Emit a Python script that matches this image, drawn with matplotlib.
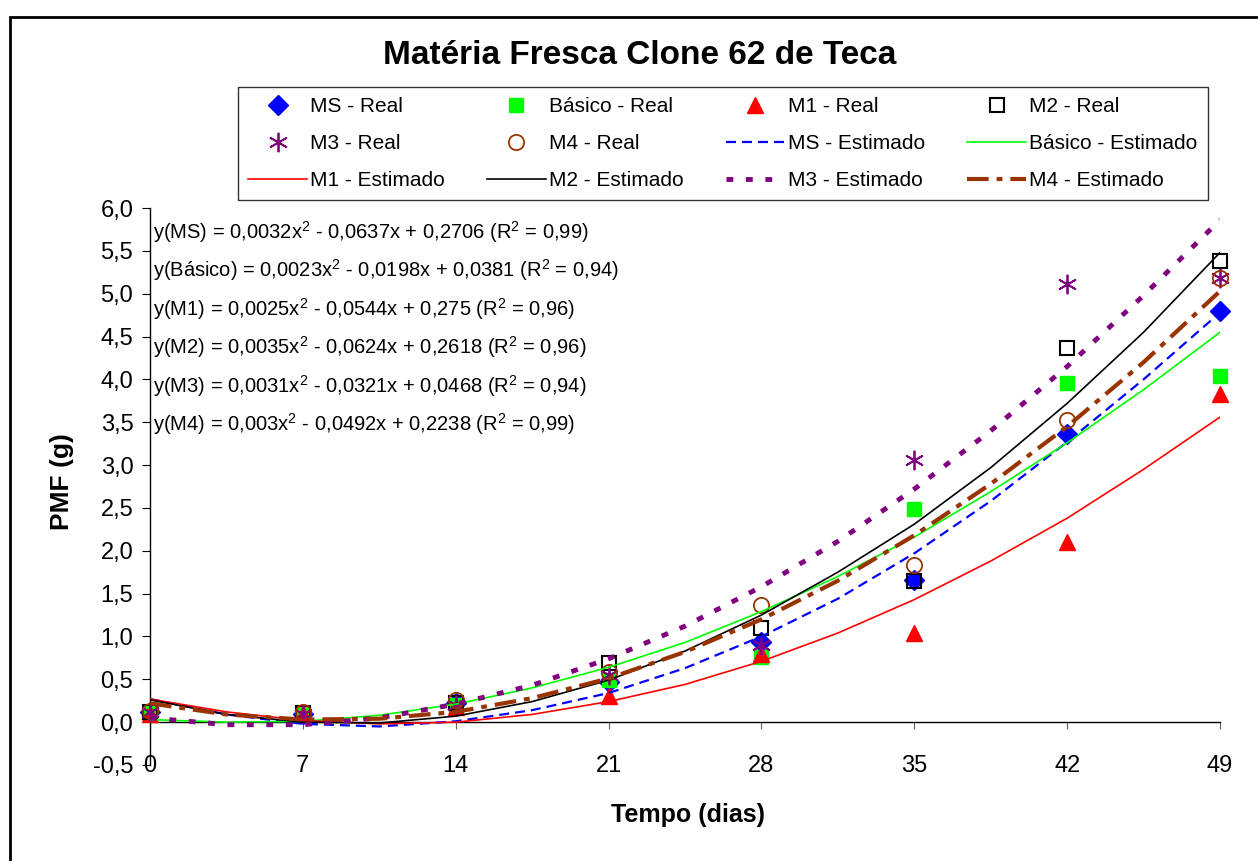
import numpy as np
import matplotlib
matplotlib.use("Agg")
import matplotlib.pyplot as plt
from matplotlib.patches import Rectangle

plt.rcParams['font.family'] = ['Liberation Sans', 'DejaVu Sans']
plt.rcParams['mathtext.fontset'] = 'custom'
plt.rcParams['mathtext.rm'] = 'Liberation Sans'
plt.rcParams['mathtext.default'] = 'regular'

# dias de coleta (valores reais)
dias = [0, 7, 14, 21, 28, 35, 42, 49]
ms_real = [0.12, 0.10, 0.22, 0.47, 0.94, 1.66, 3.36, 4.80]
basico_real = [0.11, 0.10, 0.20, 0.49, 0.76, 2.49, 3.96, 4.04]
m1_real = [0.10, 0.09, 0.18, 0.30, 0.80, 1.04, 2.10, 3.83]
m2_real = [0.12, 0.11, 0.22, 0.69, 1.10, 1.65, 4.37, 5.38]
m3_real = [0.12, 0.10, 0.20, 0.55, 0.90, 3.06, 5.11, 5.18]
m4_real = [0.13, 0.12, 0.26, 0.59, 1.37, 1.83, 3.53, 5.18]

# curvas estimadas
dias_est = [0, 3.5, 7, 10.5, 14, 17.5, 21, 24.5, 28, 31.5, 35, 38.5, 42, 45.5, 49]
ms_est = [0.27, 0.09, -0.02, -0.05, 0.01, 0.14, 0.34, 0.63, 1.00, 1.44, 1.97, 2.58, 3.27, 4.00, 4.78]
basico_est = [0.03, 0.00, 0.01, 0.08, 0.21, 0.40, 0.64, 0.93, 1.29, 1.70, 2.16, 2.69, 3.26, 3.88, 4.55]
m1_est = [0.27, 0.12, 0.02, -0.02, 0.00, 0.09, 0.24, 0.44, 0.71, 1.04, 1.43, 1.88, 2.38, 2.95, 3.56]
m2_est = [0.26, 0.09, 0.00, -0.01, 0.07, 0.24, 0.49, 0.83, 1.25, 1.75, 2.31, 2.97, 3.72, 4.55, 5.48]
m3_est = [0.05, -0.03, -0.03, 0.05, 0.21, 0.43, 0.74, 1.12, 1.58, 2.11, 2.72, 3.40, 4.15, 4.98, 5.86]
m4_est = [0.22, 0.09, 0.03, 0.04, 0.12, 0.28, 0.51, 0.82, 1.20, 1.65, 2.18, 2.78, 3.45, 4.20, 5.03]

equacoes = [
    "y(MS) = 0,0032x$^2$ - 0,0637x + 0,2706 (R$^2$ = 0,99)",
    "y(Básico) = 0,0023x$^2$ - 0,0198x + 0,0381 (R$^2$ = 0,94)",
    "y(M1) = 0,0025x$^2$ - 0,0544x + 0,275 (R$^2$ = 0,96)",
    "y(M2) = 0,0035x$^2$ - 0,0624x + 0,2618 (R$^2$ = 0,96)",
    "y(M3) = 0,0031x$^2$ - 0,0321x + 0,0468 (R$^2$ = 0,94)",
    "y(M4) = 0,003x$^2$ - 0,0492x + 0,2238 (R$^2$ = 0,99)",
]

fig = plt.figure(figsize=(12.58, 8.61), dpi=100)
ax = fig.add_axes([150/1258, 96/861, 1070/1258, 557/861])

kw = dict(ls="none", clip_on=False, zorder=3)
h_ms, = ax.plot(dias, ms_real, marker="D", ms=10.5, mfc="#0000FF", mec="#0000FF", label="MS - Real", **kw)
h_bas, = ax.plot(dias, basico_real, marker="s", ms=10.5, mfc="#00FF00", mec="#00FF00", label="Básico - Real", **kw)
h_m1, = ax.plot(dias, m1_real, marker="^", ms=12, mfc="#FF0000", mec="#FF0000", label="M1 - Real", **kw)
h_m2, = ax.plot(dias, m2_real, marker="s", ms=10.5, mfc="none", mec="black", mew=1.5, label="M2 - Real", **kw)
h_m3, = ax.plot(dias, m3_real, marker=(6, 2, 0), ms=14, mec="#800080", mew=1.3, label="M3 - Real", **kw)
h_m4, = ax.plot(dias, m4_real, marker="o", ms=11, mfc="none", mec="#993300", mew=1.3, label="M4 - Real", **kw)

e_ms, = ax.plot(dias_est, ms_est, c="#0000FF", lw=1.6, dashes=(4.5, 2.7), label="MS - Estimado", zorder=4)
e_bas, = ax.plot(dias_est, basico_est, c="#00FF00", lw=1.2, label="Básico - Estimado", zorder=4)
e_m1, = ax.plot(dias_est, m1_est, c="#FF0000", lw=1.2, label="M1 - Estimado", zorder=4)
e_m2, = ax.plot(dias_est, m2_est, c="black", lw=1.2, label="M2 - Estimado", zorder=4)
e_m3, = ax.plot(dias_est, m3_est, c="#800080", lw=3.5, dashes=(1.4, 2.6), label="M3 - Estimado", zorder=4)
e_m4, = ax.plot(dias_est, m4_est, c="#993300", lw=3.0, dashes=(5.2, 1.9, 1.4, 1.9), label="M4 - Estimado", zorder=4)

ax.set_xlim(0, 49)
ax.set_ylim(-0.5, 6.0)
ax.set_xticks(dias)
ax.set_yticks(np.arange(-0.5, 6.01, 0.5))
ax.set_yticklabels([f"{v:.1f}".replace(".", ",") for v in np.arange(-0.5, 6.01, 0.5)])
ax.spines["top"].set_visible(False)
ax.spines["right"].set_visible(False)
ax.spines["bottom"].set_position(("data", 0))
ax.spines["bottom"].set_linewidth(1.0)
ax.spines["left"].set_linewidth(1.0)
ax.tick_params(axis="x", direction="out", length=5, width=0.8, pad=19, labelsize=17, color="#606060")
ax.tick_params(axis="y", direction="out", length=6, width=0.8, pad=6, labelsize=17)

for i, eq in enumerate(equacoes):
    ax.text(0.15, 5.72 - i*0.448, eq, fontsize=14.5, va="center", ha="left")

fig.text(640/1258, 1 - 56/861, "Matéria Fresca Clone 62 de Teca", fontsize=24,
         fontweight="bold", ha="center", va="center")
fig.text(62/1258, 1 - 482/861, "PMF (g)", fontsize=19, fontweight="bold",
         rotation=90, ha="center", va="center")
fig.text(688/1258, 1 - 815/861, "Tempo (dias)", fontsize=18, fontweight="bold",
         ha="center", va="center")

# ordem por coluna para obter a disposicao em linhas do original
handles = [h_ms, h_m3, e_m1, h_bas, h_m4, e_m2, h_m1, e_ms, e_m3, h_m2, e_bas, e_m4]
leg = fig.legend(handles=handles, labels=[h.get_label() for h in handles],
                 loc="upper left", bbox_to_anchor=(238/1258, 1 - 87/861), ncol=4,
                 fontsize=15, frameon=True, fancybox=False, edgecolor="black",
                 borderaxespad=0, borderpad=0.5, handlelength=2.8, handletextpad=0.15,
                 columnspacing=2.05, labelspacing=0.85, numpoints=1)
leg.get_frame().set_linewidth(1.0)

fig.add_artist(Rectangle((10/1258, -0.05), 1.1, 1 - 17/861 + 0.05, transform=fig.transFigure,
                         fill=False, ec="black", lw=2))

fig.savefig("out.png", dpi=100)
